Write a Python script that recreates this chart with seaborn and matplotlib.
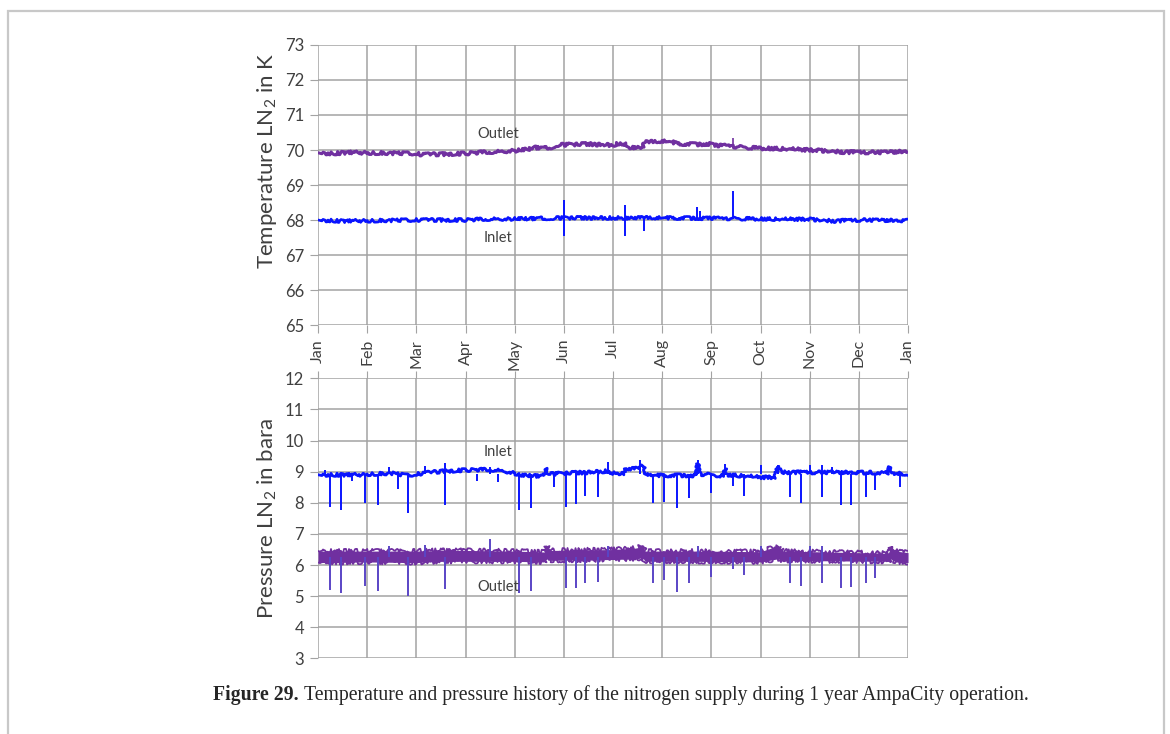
import numpy as np
import pandas as pd
import seaborn as sns
import matplotlib.pyplot as plt
from matplotlib.patches import Rectangle

sns.set_style("whitegrid")
plt.rcParams['font.family'] = ['Lato', 'DejaVu Sans']
plt.rcParams['mathtext.fontset'] = 'custom'
plt.rcParams['mathtext.rm'] = 'Lato'
plt.rcParams['mathtext.it'] = 'Lato:italic'

months = ['Jan', 'Feb', 'Mar', 'Apr', 'May', 'Jun', 'Jul', 'Aug', 'Sep', 'Oct', 'Nov', 'Dec', 'Jan']

# temperature, outlet (month index, K)
t_out_x = [0, 0.3, 0.6, 1.0, 1.5, 2.0, 2.1, 2.5, 3.0, 3.3, 3.6, 4.0, 4.3, 4.35, 4.6, 4.75, 4.85,
           5.2, 5.5, 5.8, 6.0, 6.15, 6.25, 6.3, 6.6, 6.65, 7.0, 7.2, 7.3, 7.7, 8.0, 8.05, 8.4,
           8.5, 9.0, 9.6, 10.0, 10.4, 10.7, 11.5, 12.0]
t_out_y = [69.92, 69.90, 69.93, 69.92, 69.91, 69.90, 69.87, 69.88, 69.90, 69.93, 69.95, 69.98,
           70.02, 70.08, 70.05, 70.08, 70.14, 70.16, 70.17, 70.15, 70.14, 70.20, 70.16, 70.08,
           70.07, 70.22, 70.25, 70.23, 70.18, 70.16, 70.18, 70.13, 70.12, 70.09, 70.05, 70.03,
           70.00, 69.97, 69.94, 69.93, 69.96]
t_out_spike_x = [8.44]
t_out_spike_y = [70.35]

# temperature, inlet
t_in_x = [0, 0.5, 1.0, 2.0, 3.0, 3.5, 4.0, 5.0, 6.0, 7.0, 8.0, 9.0, 10.0, 10.5, 11.0, 12.0]
t_in_y = [68.0, 67.97, 67.98, 68.0, 68.0, 68.03, 68.03, 68.06, 68.06, 68.06, 68.05, 68.03,
          68.02, 67.97, 68.0, 67.98]
t_in_spike_x = [5.0, 5.0, 6.24, 6.24, 6.64, 7.71, 7.77, 8.44]
t_in_spike_y = [68.57, 67.55, 68.43, 67.55, 67.68, 68.38, 68.27, 68.82]

# pressure, inlet (bara)
p_in_x = [0, 0.9, 1.0, 1.5, 1.8, 2.0, 2.3, 2.6, 3.0, 3.5, 3.8, 4.0, 4.1, 4.6, 4.63, 4.7, 5.0,
          5.5, 5.9, 6.0, 6.22, 6.25, 6.5, 6.55, 6.62, 6.66, 6.75, 7.7, 7.72, 7.78, 8.0, 8.25,
          8.28, 8.32, 8.9, 8.95, 9.3, 9.35, 9.45, 11.6, 11.63, 11.7, 12.0]
p_in_y = [8.9, 8.9, 8.92, 8.95, 8.88, 8.92, 8.98, 9.02, 9.05, 9.07, 9.02, 8.95, 8.88, 8.86,
          9.12, 8.92, 8.95, 8.98, 9.02, 8.95, 8.95, 9.08, 9.1, 9.15, 9.18, 8.95, 8.88, 8.88,
          9.25, 8.92, 8.9, 8.86, 9.1, 8.9, 8.84, 8.82, 8.82, 9.18, 8.98, 8.97, 9.15, 8.95, 8.93]
p_in_spike_x = [0.15, 1.45, 2.17, 2.58, 3.5, 5.9, 6.55, 7.72, 8.28, 9.0, 9.35, 10.0, 10.25,
                10.45, 11.6,
                0.25, 0.47, 0.69, 0.96, 1.21, 1.63, 1.83, 2.58, 3.24, 3.67, 4.09, 4.33, 4.8,
                5.05, 5.24, 5.44, 5.69, 6.82, 7.03, 7.3, 7.55, 7.99, 8.45, 8.67, 9.59, 9.82,
                10.26, 10.63, 10.85, 11.14, 11.33, 11.83]
p_in_spike_y = [9.05, 9.16, 9.18, 9.27, 9.15, 9.3, 9.37, 9.37, 9.25, 9.2, 9.2, 9.2, 9.22,
                9.15, 9.15,
                7.85, 7.77, 8.7, 7.98, 7.93, 8.46, 7.66, 7.93, 8.7, 8.68, 7.77, 7.82, 8.52,
                7.85, 7.96, 8.22, 8.18, 8.0, 8.03, 7.82, 8.14, 8.3, 8.54, 8.22, 8.2, 7.98,
                8.2, 7.93, 7.93, 8.2, 8.41, 8.52]

# pressure, outlet (noise band)
p_out_x = [0, 1.0, 2.0, 2.5, 3.0, 4.0, 4.6, 4.65, 4.75, 6.0, 6.5, 6.6, 6.65, 7.7, 9.0, 9.35,
           9.45, 11.6, 11.65, 11.75, 12.0]
p_out_lo = [6.08, 6.1, 6.08, 6.12, 6.12, 6.12, 6.1, 6.22, 6.15, 6.18, 6.2, 6.25, 6.12, 6.12,
            6.1, 6.2, 6.15, 6.12, 6.2, 6.1, 6.08]
p_out_hi = [6.45, 6.45, 6.45, 6.47, 6.47, 6.45, 6.42, 6.6, 6.47, 6.5, 6.55, 6.65, 6.45, 6.45,
            6.43, 6.62, 6.45, 6.38, 6.6, 6.45, 6.4]
p_out_spike_x = [1.45, 2.17, 3.5, 5.9, 7.72, 9.0, 10.0, 10.25,
                 0.25, 0.47, 0.96, 1.21, 1.83, 2.58, 4.09, 4.33, 5.05, 5.24, 5.44, 5.69, 6.82,
                 7.03, 7.3, 7.55, 7.99, 8.45, 8.67, 9.59, 9.82, 10.26, 10.63, 10.85, 11.14,
                 11.33]
p_out_spike_y = [6.6, 6.65, 6.85, 6.6, 6.6, 6.6, 6.6, 6.62,
                 5.2, 5.11, 5.33, 5.18, 5.0, 5.22, 5.1, 5.16, 5.25, 5.25, 5.41, 5.46, 5.43,
                 5.52, 5.14, 5.41, 5.62, 5.86, 5.68, 5.41, 5.33, 5.41, 5.25, 5.3, 5.41, 5.57]

blue = '#0a14ff'
purple = '#7030a0'
grid_c = '#a3a3a3'
text_c = '#404040'
fuzz = dict(scale=1.6, length=3, randomness=30)

fig = plt.figure(figsize=(11.7, 7.34), dpi=100)
ax1 = fig.add_axes([0.2718, 0.5572, 0.5043, 0.3815])
ax2 = fig.add_axes([0.2718, 0.1029, 0.5043, 0.3817])

# top: temperature
sns.lineplot(x=t_out_x, y=t_out_y, ax=ax1, color=purple, lw=2.2, estimator=None, sort=False)
ax1.lines[-1].set_sketch_params(**fuzz)
ax1.vlines(t_out_spike_x, 70.1, t_out_spike_y, color=purple, lw=1.2)
sns.lineplot(x=t_in_x, y=t_in_y, ax=ax1, color=blue, lw=1.9, estimator=None, sort=False)
ax1.lines[-1].set_sketch_params(**fuzz)
ax1.vlines(t_in_spike_x, 68.03, t_in_spike_y, color=blue, lw=1.4)
ax1.set_ylim(65, 73)
ax1.set_yticks(range(65, 74))
ax1.set_ylabel('Temperature LN$_\\mathrm{2}$ in K', fontsize=16, color=text_c)
ax1.yaxis.set_label_coords(-0.066, 0.585)
ax1.text(3.66, 70.47, 'Outlet', fontsize=10.5, color=text_c, ha='center', va='center')
ax1.text(3.66, 67.5, 'Inlet', fontsize=10.5, color=text_c, ha='center', va='center')

# bottom: pressure
sns.lineplot(x=p_in_x, y=p_in_y, ax=ax2, color=blue, lw=2.0, estimator=None, sort=False)
ax2.lines[-1].set_sketch_params(**fuzz)
ax2.vlines(p_in_spike_x, 8.92, p_in_spike_y, color=blue, lw=1.4)
ax2.fill_between(p_out_x, p_out_lo, p_out_hi, color=purple, alpha=1.0, lw=0, zorder=2)
for edge in (p_out_lo, p_out_hi):
    sns.lineplot(x=p_out_x, y=edge, ax=ax2, color=purple, lw=1.3, estimator=None, sort=False)
    ax2.lines[-1].set_sketch_params(scale=2.2, length=2, randomness=40)
ax2.vlines(p_out_spike_x, 6.25, p_out_spike_y, color='#5a45c6', lw=1.4)
ax2.set_ylim(3, 12)
ax2.set_yticks(range(3, 13))
ax2.set_ylabel('Pressure LN$_\\mathrm{2}$ in bara', fontsize=16, color=text_c)
ax2.yaxis.set_label_coords(-0.066, 0.5)
ax2.text(3.66, 9.63, 'Inlet', fontsize=10.5, color=text_c, ha='center', va='center')
ax2.text(3.66, 5.29, 'Outlet', fontsize=10.5, color=text_c, ha='center', va='center')

for ax in (ax1, ax2):
    ax.set_xlim(0, 12)
    ax.set_xticks(range(13))
    ax.grid(True, color=grid_c, lw=1.1)
    ax.set_facecolor('white')
    for s in ax.spines.values():
        s.set_visible(False)
    ax.tick_params(axis='y', left=True, length=6, color=grid_c, labelsize=12,
                   labelcolor=text_c, pad=4)
    ax.set_axisbelow(True)

ax1.set_xticklabels(months, rotation=90)
ax1.tick_params(axis='x', bottom=True, length=6, color=grid_c, labelsize=11.5,
                labelcolor=text_c, pad=4)
ax2.xaxis.set_ticks_position('top')
ax2.tick_params(axis='x', top=True, labeltop=False, labelbottom=False, length=5, color=grid_c)

# page frame and caption
fig.add_artist(Rectangle((8 / 1170, -0.05), (1164 - 8) / 1170, 1.05 - 11 / 734,
                         transform=fig.transFigure, fill=False, ec='#c8c8c8', lw=1.6))
t1 = fig.text(213 / 1170, 1 - 695 / 734, 'Figure 29.', fontsize=14.2, fontweight='bold',
              family='Liberation Serif', va='center', ha='left')
ax2.annotate('Temperature and pressure history of the nitrogen supply during 1 year AmpaCity operation.',
             xy=(1, 0), xycoords=t1, xytext=(4, 0), textcoords='offset points',
             va='bottom', ha='left', fontsize=14.2, family='Liberation Serif',
             annotation_clip=False)

fig.savefig('out.png', dpi=100, facecolor='white')
